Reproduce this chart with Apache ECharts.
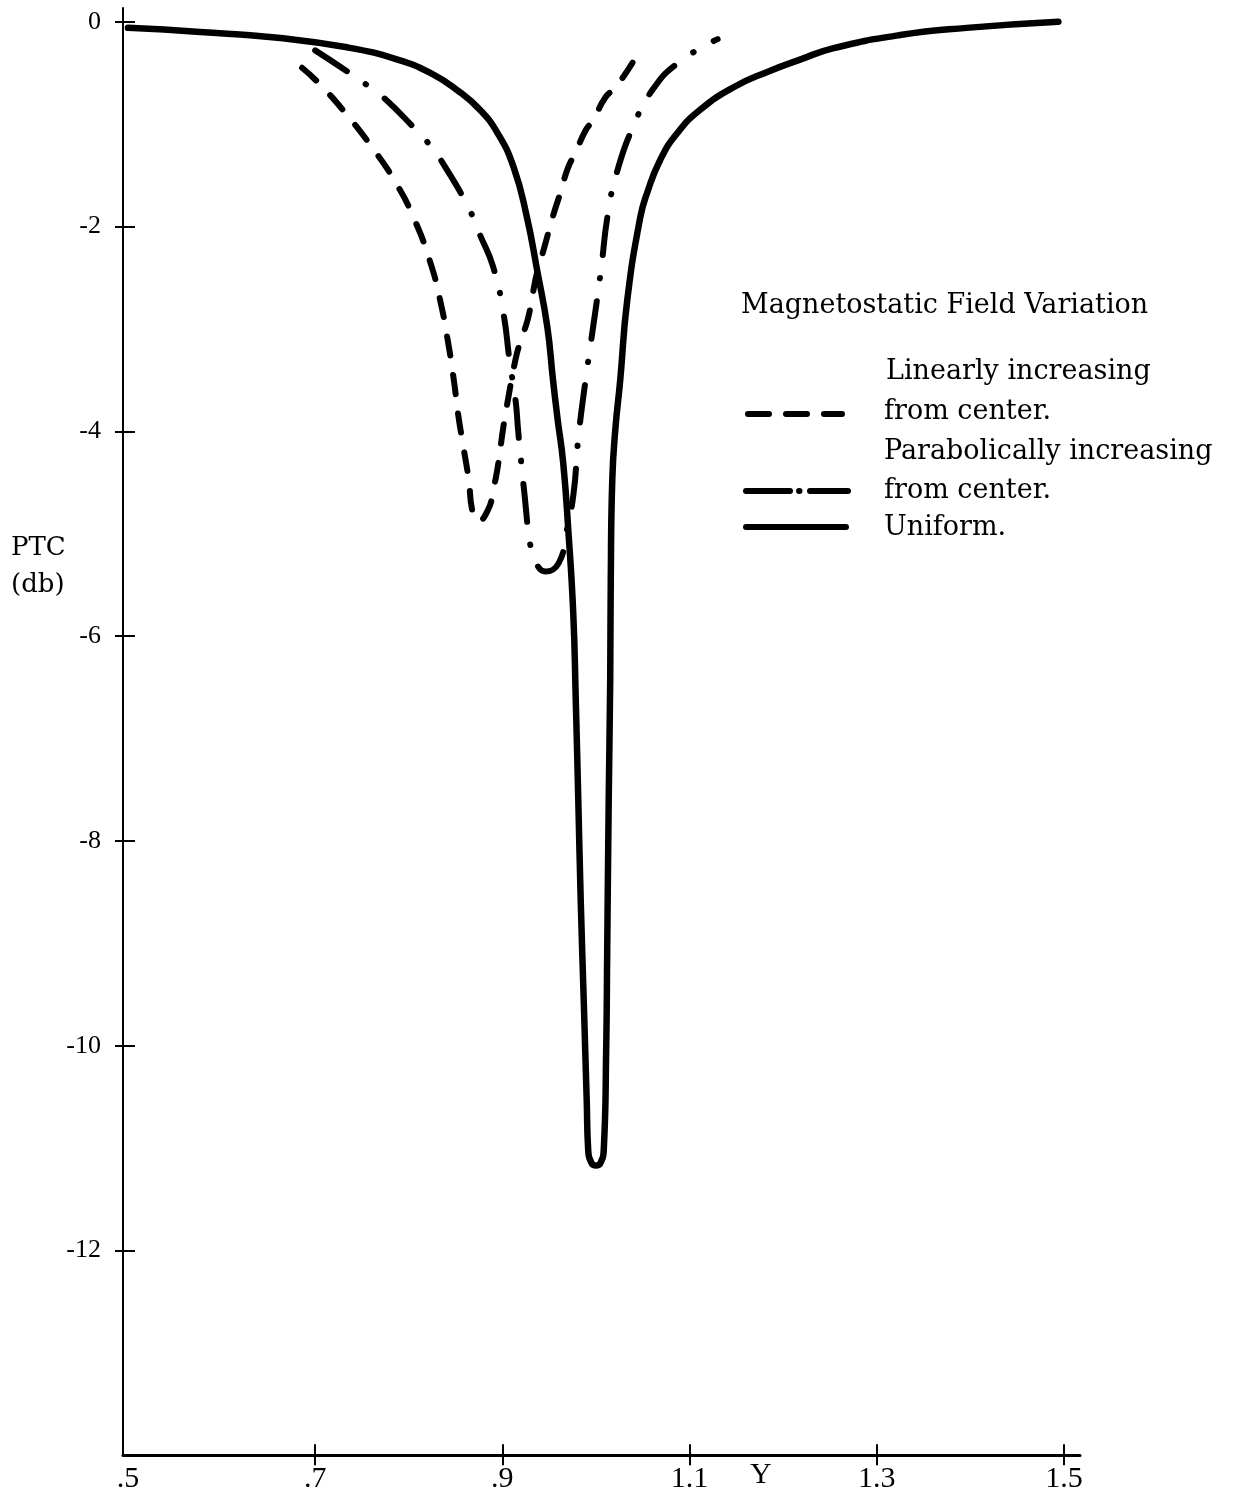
<!DOCTYPE html>
<html><head><meta charset="utf-8">
<script src="https://cdn.jsdelivr.net/npm/echarts@6/dist/echarts.min.js"></script>
<style>html,body{margin:0;padding:0;background:#fff}#c{width:1242px;height:1499px}</style>
</head><body><div id="c"></div>
<script>
const xLabelValues = [0.5, 0.7, 0.9, 1.1, 1.3, 1.5];
const xTickValues = [0.7, 0.9, 1.1, 1.3, 1.5];
const yTickValues = [0, -2, -4, -6, -8, -10, -12];

const uniformX = [0.5, 0.577, 0.663, 0.734, 0.788, 0.823, 0.852, 0.876, 0.895, 0.912, 0.926, 0.937, 0.948, 0.954, 0.959, 0.965, 0.9704, 0.9757, 0.9784, 0.9811, 0.9837, 0.9869, 0.9901, 0.9917, 0.9955, 1.000, 1.0045, 1.0083, 1.0109, 1.0120, 1.0136, 1.0152, 1.0158, 1.0174, 1.0206, 1.0259, 1.0334, 1.0473, 1.0547, 1.0686, 1.0867, 1.1113, 1.147, 1.183, 1.218, 1.253, 1.325, 1.396, 1.494];
const uniformY = [-0.06, -0.10, -0.16, -0.25, -0.37, -0.50, -0.67, -0.86, -1.09, -1.42, -1.90, -2.42, -2.98, -3.49, -3.88, -4.31, -4.96, -5.77, -6.62, -7.60, -8.58, -9.55, -10.53, -11.02, -11.15, -11.17, -11.15, -11.02, -10.04, -9.07, -7.60, -6.43, -5.45, -4.48, -3.99, -3.50, -2.72, -1.91, -1.67, -1.35, -1.09, -0.86, -0.64, -0.49, -0.37, -0.26, -0.13, -0.06, 0.00];

const linearX = [0.686, 0.706, 0.734, 0.761, 0.786, 0.805, 0.823, 0.834, 0.842, 0.848, 0.853, 0.857, 0.864, 0.868, 0.874, 0.885, 0.890, 0.895, 0.901, 0.906, 0.914, 0.919, 0.927, 0.932, 0.937, 0.944, 0.954, 0.962, 0.970, 0.978, 0.989, 0.997, 1.010, 1.021, 1.039];
const linearY = [-0.45, -0.62, -0.91, -1.23, -1.57, -1.91, -2.35, -2.74, -3.13, -3.49, -3.85, -4.08, -4.47, -4.78, -4.88, -4.76, -4.58, -4.35, -3.96, -3.69, -3.30, -3.13, -2.91, -2.68, -2.45, -2.23, -1.90, -1.67, -1.43, -1.28, -1.06, -0.96, -0.74, -0.64, -0.40];

const parabolicX = [0.700, 0.740, 0.757, 0.773, 0.805, 0.823, 0.839, 0.864, 0.876, 0.890, 0.901, 0.908, 0.914, 0.917, 0.920, 0.923, 0.930, 0.935, 0.946, 0.960, 0.968, 0.976, 0.981, 0.989, 0.994, 1.005, 1.013, 1.023, 1.039, 1.060, 1.088, 1.130];
const parabolicY = [-0.28, -0.52, -0.63, -0.74, -1.03, -1.21, -1.42, -1.82, -2.08, -2.39, -2.84, -3.33, -3.69, -4.01, -4.29, -4.56, -5.12, -5.27, -5.37, -5.29, -5.00, -4.61, -4.08, -3.49, -3.17, -2.45, -1.86, -1.45, -1.04, -0.67, -0.40, -0.17];

const zip = (xs, ys) => xs.map((x, i) => [x, ys[i]]);
const fmtX = v => { const s = (+v).toFixed(1); return v < 1 ? s.replace(/^0/, '') : s; };

const serif = '"DejaVu Serif", serif';
const tickFont = '"Liberation Serif", serif';
const X_MIN = 0.4947, X_MAX = 1.5171, Y_MIN = -14, Y_MAX = 0.134;

const chart = echarts.init(document.getElementById('c'), null, {renderer: 'canvas'});
const text = (t, x, y, size, fam) => ({type: 'text', x: x, y: y, style: {text: t, fill: '#000', font: size + 'px ' + (fam || serif), align: 'left', verticalAlign: 'middle'}});
const seg = (x1, y1, x2, y2, dash) => ({type: 'line', shape: {x1, y1, x2, y2}, style: {stroke: '#000', lineWidth: 6, lineCap: 'round', lineDash: dash || null}});

chart.setOption({
  animation: false,
  backgroundColor: '#fff',
  grid: {left: 123, right: 162, top: 8, bottom: 43.7, containLabel: false},
  xAxis: [{
    type: 'value', min: X_MIN, max: X_MAX, position: 'bottom',
    axisLine: {show: true, onZero: false, lineStyle: {color: '#000', width: 3}},
    axisTick: {show: true, inside: false, length: 10, customValues: xTickValues, lineStyle: {color: '#000', width: 2}},
    axisLabel: {show: true, customValues: xLabelValues, formatter: fmtX, margin: 9, color: '#000', fontFamily: tickFont, fontSize: 30},
    splitLine: {show: false}
  }, {
    type: 'value', min: X_MIN, max: X_MAX, position: 'bottom', offset: 0,
    axisLine: {show: false, onZero: false},
    axisTick: {show: true, inside: true, length: 11, customValues: xTickValues, lineStyle: {color: '#000', width: 2}},
    axisLabel: {show: false}, splitLine: {show: false}
  }],
  yAxis: [{
    type: 'value', min: Y_MIN, max: Y_MAX, position: 'left',
    axisLine: {show: true, onZero: false, lineStyle: {color: '#000', width: 2}},
    axisTick: {show: true, inside: false, length: 8, customValues: yTickValues, lineStyle: {color: '#000', width: 2}},
    axisLabel: {show: true, customValues: yTickValues, margin: 22, color: '#000', fontFamily: tickFont, fontSize: 26},
    splitLine: {show: false}
  }, {
    type: 'value', min: Y_MIN, max: Y_MAX, position: 'left', offset: 0,
    axisLine: {show: false, onZero: false},
    axisTick: {show: true, inside: true, length: 12, customValues: yTickValues, lineStyle: {color: '#000', width: 2}},
    axisLabel: {show: false}, splitLine: {show: false}
  }],
  series: [{
    name: 'Uniform.', type: 'line', xAxisIndex: 0, yAxisIndex: 0,
    data: zip(uniformX, uniformY), smooth: 0.5, showSymbol: false, symbol: 'none',
    lineStyle: {color: '#000', width: 6.5, cap: 'round', join: 'round'}
  }, {
    name: 'Linearly increasing from center.', type: 'line', xAxisIndex: 0, yAxisIndex: 0,
    data: zip(linearX, linearY), smooth: 0.5, showSymbol: false, symbol: 'none',
    lineStyle: {color: '#000', width: 6, type: [19, 20], cap: 'round', join: 'round'}
  }, {
    name: 'Parabolically increasing from center.', type: 'line', xAxisIndex: 0, yAxisIndex: 0,
    data: zip(parabolicX, parabolicY), smooth: 0.5, showSymbol: false, symbol: 'none',
    lineStyle: {color: '#000', width: 6, type: [38, 23, 0.5, 23], cap: 'round', join: 'round'}
  }],
  graphic: [
    text('PTC', 11, 548, 26),
    text('(db)', 11, 585, 26),
    text('Y', 750, 1475, 30, tickFont),
    text('Magnetostatic Field Variation', 741, 306, 27),
    text('Linearly increasing', 886, 372, 27),
    text('from center.', 884, 412, 27),
    text('Parabolically increasing', 884, 452, 27),
    text('from center.', 884, 491, 27),
    text('Uniform.', 884, 528, 27),
    seg(748, 414, 842, 414, [21, 17]),
    seg(746, 491, 790, 491),
    seg(799, 491, 799.5, 491),
    seg(810, 491, 848, 491),
    seg(746, 527, 846, 527)
  ]
});
</script>
</body></html>
